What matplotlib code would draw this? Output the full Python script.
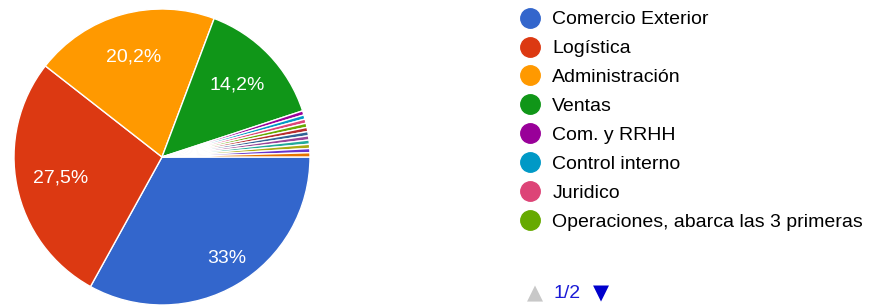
import matplotlib.pyplot as plt
from matplotlib.lines import Line2D

plt.rcParams['font.family'] = ['Liberation Sans', 'DejaVu Sans']

# respuestas por area (las 11 ultimas tienen 1 respuesta cada una)
labels = ["Comercio Exterior", "Logística", "Administración", "Ventas",
          "Com. y RRHH", "Control interno", "Juridico",
          "Operaciones, abarca las 3 primeras",
          "Otro 1", "Otro 2", "Otro 3", "Otro 4", "Otro 5", "Otro 6", "Otro 7"]
counts = [72, 60, 44, 31, 1, 1, 1, 1, 1, 1, 1, 1, 1, 1, 1]
colors = ["#3366cc", "#dc3912", "#ff9900", "#109618", "#990099", "#0099c6",
          "#dd4477", "#66aa00", "#b82e2e", "#316395", "#994499", "#22aa99",
          "#aaaa11", "#6633cc", "#e67300"]
n_legend = 8


def fmt_pct(p):
    if p < 5:
        return ""
    s = f"{p:.1f}".replace(".", ",")
    if s.endswith(",0"):
        s = s[:-2]
    return s + "%"


fig = plt.figure(figsize=(8.69, 3.06), dpi=100)
ax = fig.add_axes([14/869, 1/306, 296/869, 296/306])
wedges, texts, autotexts = ax.pie(counts, colors=colors, startangle=0, counterclock=False,
                                  autopct=fmt_pct, pctdistance=0.7,
                                  wedgeprops=dict(edgecolor="white", linewidth=1.0),
                                  textprops=dict(color="white", fontsize=14))
# la etiqueta del mayor sector queda algo mas afuera
x, y = autotexts[0].get_position()
autotexts[0].set_position((x * 0.8 / 0.7 + 0.03, y * 0.8 / 0.7))
ax.set_xlim(-1, 1)
ax.set_ylim(-1, 1)

handles = [Line2D([], [], marker="o", linestyle="none", markersize=14,
                  markerfacecolor=colors[i], markeredgecolor=colors[i])
           for i in range(n_legend)]
fig.legend(handles, labels[:n_legend], loc="upper left", bbox_to_anchor=(0.585, 0.99),
           frameon=False, fontsize=14, handletextpad=0.46, labelspacing=0.58,
           handlelength=1.4, borderaxespad=0)

nav_y = 1 - 293/306
fig.text(535/869, nav_y, "▲", color="#c8c8c8", fontsize=15, ha="center", va="center",
         family=["DejaVu Sans"])
fig.text(567/869, nav_y, "1/2", color="#1a1ad6", fontsize=14, ha="center", va="center")
fig.text(601/869, nav_y, "▼", color="#0000cc", fontsize=15, ha="center", va="center",
         family=["DejaVu Sans"])

fig.savefig("out.png", dpi=100)
